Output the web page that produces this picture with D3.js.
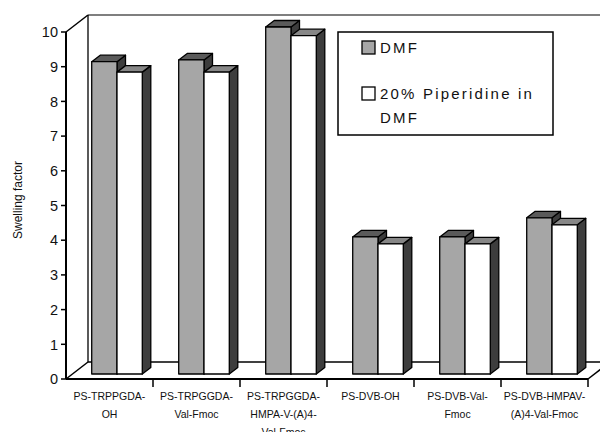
<!DOCTYPE html>
<html>
<head>
<meta charset="utf-8">
<script src="https://cdn.jsdelivr.net/npm/d3@7"></script>
<style>
  body { margin: 0; background: #fff; }
  svg { display: block; font-family: "Liberation Sans", Arial, sans-serif; }
</style>
</head>
<body>
<svg id="chart" width="600" height="432"></svg>
<script>
// data
var categories = ["PS-TRPPGDA-OH", "PS-TRPGGDA-Val-Fmoc", "PS-TRPGGDA-HMPA-V-(A)4-Val-Fmoc",
                  "PS-DVB-OH", "PS-DVB-Val-Fmoc", "PS-DVB-HMPAV-(A)4-Val-Fmoc"]
var categoryLines = [["PS-TRPPGDA-", "OH"], ["PS-TRPGGDA-", "Val-Fmoc"], ["PS-TRPGGDA-", "HMPA-V-(A)4-", "Val-Fmoc"],
                     ["PS-DVB-OH"], ["PS-DVB-Val-", "Fmoc"], ["PS-DVB-HMPAV-", "(A)4-Val-Fmoc"]]
var seriesNames = ["DMF", "20% Piperidine in DMF"]
var dmfValues = [9.0, 9.05, 10.0, 3.95, 3.95, 4.5]
var piperidineValues = [8.7, 8.7, 9.75, 3.75, 3.75, 4.3]
var yTicks = [0, 1, 2, 3, 4, 5, 6, 7, 8, 9, 10]

var dimensions = {
    width: 600,
    height: 432,
    left: 66,
    right: 588,
    top: 32,
    bottom: 379,
    depthX: 22,   // back wall offset
    depthY: 17,
    barOffX: 7.5, // bar front face sits a bit into the floor
    barOffY: 5,
    barDX: 8.5,   // bar depth
    barDY: 6.5
}

var svg = d3.select("#chart")

var xScale = d3.scaleBand()
    .domain(categories)
    .range([dimensions.left, dimensions.right])
    .padding(0)

var x1 = d3.scaleBand()
    .domain(seriesNames)
    .range([0, xScale.bandwidth()])
    .paddingInner(0)
    .paddingOuter(0.72)

var yScale = d3.scaleLinear()
    .domain([0, 10])
    .range([dimensions.bottom, dimensions.top])

var dX = dimensions.depthX, dY = dimensions.depthY
var line = function(x1_, y1_, x2_, y2_, w) {
    svg.append("line")
        .attr("x1", x1_).attr("y1", y1_).attr("x2", x2_).attr("y2", y2_)
        .attr("stroke", "#000").attr("stroke-width", w || 1.3)
}

//walls
var L = dimensions.left, R = dimensions.right, T = yScale(10), B = yScale(0)
line(L + dX, T - dY, R + dX + 30, T - dY, 1.2)   // top of back wall
line(L + dX, T - dY, L + dX, B - dY, 1.3)        // back vertical
line(L + dX, B - dY, R + dX, B - dY, 1.3)        // back floor edge
line(L, T, L + dX, T - dY, 1.5)                  // top diagonal
line(L, B, L + dX, B - dY, 1.5)                  // bottom diagonal
line(R, B, R + dX, B - dY, 1.5)                  // right floor diagonal
line(L, T, L, B, 2)                              // y axis
line(L, B, R, B, 2)                              // x axis

//y ticks
yTicks.forEach(function(t) {
    line(L - 5, yScale(t), L, yScale(t), 1.5)
    svg.append("text")
        .attr("x", L - 8)
        .attr("y", yScale(t))
        .attr("dy", "0.36em")
        .attr("text-anchor", "end")
        .style("font-size", "14.5px")
        .style("fill", "#111")
        .text(t)
})

//x ticks at category edges
categories.forEach(function(c, i) {
    line(xScale(c) + xScale.bandwidth(), B, xScale(c) + xScale.bandwidth(), B + 8, 1.5)
    var lbl = svg.append("text")
        .attr("text-anchor", "middle")
        .style("font-size", "10.5px")
        .style("fill", "#111")
    categoryLines[i].forEach(function(s, j) {
        lbl.append("tspan")
            .attr("x", xScale(c) + xScale.bandwidth() / 2)
            .attr("y", 400 + j * 18)
            .text(s)
    })
})

//bars
var colors = {
    "DMF": { front: "#a6a6a6", top: "#5a5a5a", side: "#3d3d3d" },
    "20% Piperidine in DMF": { front: "#ffffff", top: "#878787", side: "#3d3d3d" }
}
var bars = []
categories.forEach(function(c, i) {
    bars.push({ cat: c, series: seriesNames[0], value: dmfValues[i] })
    bars.push({ cat: c, series: seriesNames[1], value: piperidineValues[i] })
})

var bx = dimensions.barDX, by = dimensions.barDY
var barG = svg.append("g")
bars.forEach(function(d) {
    var x0 = xScale(d.cat) + x1(d.series) + dimensions.barOffX
    var w = x1.bandwidth()
    var yt = yScale(d.value) - dimensions.barOffY
    var yb = yScale(0) - dimensions.barOffY
    var col = colors[d.series]
    var g = barG.append("g")
        .attr("stroke", "#000")
        .attr("stroke-width", 1.3)
        .attr("stroke-linejoin", "round")
    g.append("polygon")
        .attr("points", [[x0 + w, yt], [x0 + w + bx, yt - by], [x0 + w + bx, yb - by], [x0 + w, yb]].join(" "))
        .attr("fill", col.side)
    g.append("polygon")
        .attr("points", [[x0, yt], [x0 + bx, yt - by], [x0 + w + bx, yt - by], [x0 + w, yt]].join(" "))
        .attr("fill", col.top)
    g.append("rect")
        .attr("x", x0).attr("y", yt)
        .attr("width", w).attr("height", yb - yt)
        .attr("fill", col.front)
})

//y label
svg.append("text")
    .attr("transform", "translate(22,200) rotate(-90)")
    .attr("text-anchor", "middle")
    .style("font-size", "12px")
    .style("fill", "#111")
    .text("Swelling factor")

//legend
var legend = svg.append("g")
legend.append("rect")
    .attr("x", 338).attr("y", 32)
    .attr("width", 215).attr("height", 103)
    .attr("fill", "#fff").attr("stroke", "#000").attr("stroke-width", 1.5)

var legendRows = [[seriesNames[0]], ["20% Piperidine in", "DMF"]]
seriesNames.forEach(function(s, i) {
    var sy = i == 0 ? 41 : 87
    legend.append("rect")
        .attr("x", 362).attr("y", sy)
        .attr("width", 13).attr("height", 13)
        .attr("fill", colors[s].front)
        .attr("stroke", "#000").attr("stroke-width", 1.3)
    legendRows[i].forEach(function(t, j) {
        legend.append("text")
            .attr("x", 380)
            .attr("y", sy + 12 + j * 24)
            .style("font-size", "15px")
            .style("letter-spacing", "2.2px")
            .style("fill", "#111")
            .text(t)
    })
})
</script>
</body>
</html>
